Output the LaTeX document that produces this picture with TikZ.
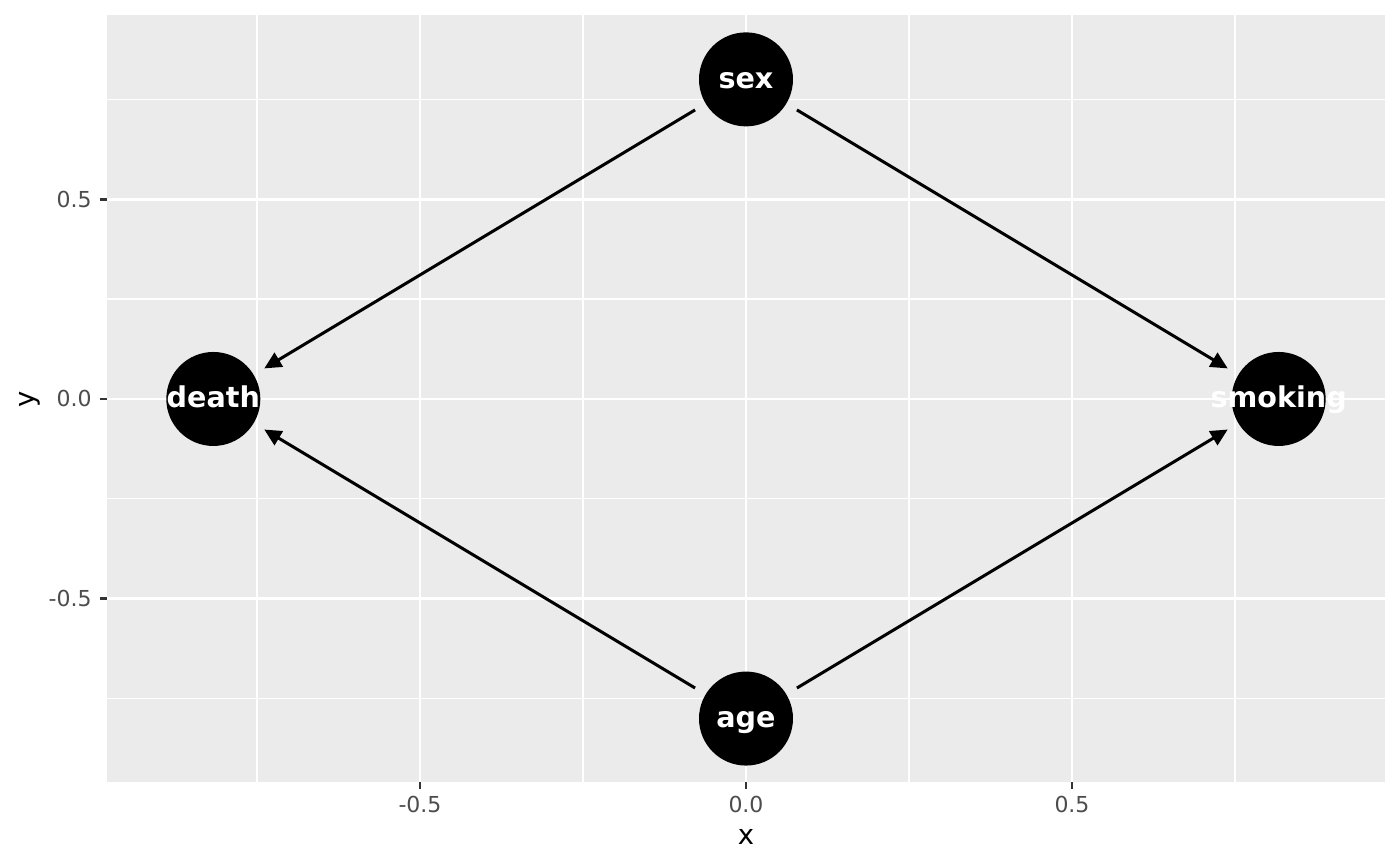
\documentclass[tikz,border=0pt]{standalone}
\usepackage{fontspec}
\setmainfont{DejaVu Sans}
\usetikzlibrary{arrows.meta, positioning}

\definecolor{panelgrey}{HTML}{EBEBEB}
\definecolor{ticktext}{HTML}{4D4D4D}
\definecolor{tickline}{HTML}{333333}

% zero-width box so the circle keeps its size
\newcommand{\vlab}[1]{\makebox[0pt]{#1}}

\begin{document}
\begin{tikzpicture}[
    % styles
    x=326pt, y=199.75pt,
    >={Triangle[length=8.5pt, width=8pt]},
    panelbg/.style={fill=panelgrey},
    majorgrid/.style={white, line width=1.3pt},
    minorgrid/.style={white, line width=0.65pt},
    tickmark/.style={tickline, line width=1.3pt},
    ticklabel/.style={text=ticktext, font=\fontsize{11}{13}\selectfont, inner sep=0pt},
    axistitle/.style={font=\fontsize{13.75}{16}\selectfont, inner sep=0pt},
    dagnode/.style={circle, fill=black, minimum size=47pt, inner sep=0pt, text=white, text height=9pt, text depth=0pt, font=\fontsize{14.3}{16}\selectfont\bfseries},
    dagedge/.style={->, line width=1.5pt, shorten >=6pt, shorten <=6pt}
]
    \useasboundingbox (-1.1442,-1.1690) rectangle (1.0031,0.9987);

    % =================================================================
    % panel and grid
    % =================================================================
    \fill[panelbg] (-0.98,-0.9587) rectangle (0.98,0.961);
    \foreach \g in {-0.75,-0.25,0.25,0.75} {
        \draw[minorgrid] (\g,-0.9587) -- (\g,0.961);
        \draw[minorgrid] (-0.98,\g) -- (0.98,\g);
    }
    \foreach \g/\t [count=\i] in {-0.5/-0.5, 0/0.0, 0.5/0.5} {
        \draw[majorgrid] (\g,-0.9587) -- (\g,0.961);
        \draw[majorgrid] (-0.98,\g) -- (0.98,\g);
        % ticks and tick labels
        \draw[tickmark] (\g,-0.9587) -- ++(0,-3.67pt);
        \draw[tickmark] (-0.98,\g) -- ++(-3.67pt,0);
        \node[ticklabel, anchor=base] (xt\i) at ([yshift=-15.5pt]\g,-0.9587) {\t};
        \node[ticklabel, anchor=base east] (yt\i) at ([xshift=-7.5pt, yshift=-4pt]-0.98,\g) {\t};
    }
    \node[axistitle, anchor=base] (xtitle) at (0,-1.1164) {x};
    \node[axistitle, rotate=90, anchor=base] (ytitle) at (-1.0920,0) {y};

    % =================================================================
    % DAG
    % =================================================================
    \node[dagnode] (sex) at (0,0.8) {\vlab{sex}};
    \node[dagnode] (death) at (-0.817,0) {\vlab{death}};
    \node[dagnode] (smoking) at (0.817,0) {\vlab{smoking}};
    \node[dagnode] (age) at (0,-0.8) {\vlab{age}};

    \draw[dagedge] (sex) -- (death);
    \draw[dagedge] (sex) -- (smoking);
    \draw[dagedge] (age) -- (death);
    \draw[dagedge] (age) -- (smoking);

\end{tikzpicture}
\end{document}
